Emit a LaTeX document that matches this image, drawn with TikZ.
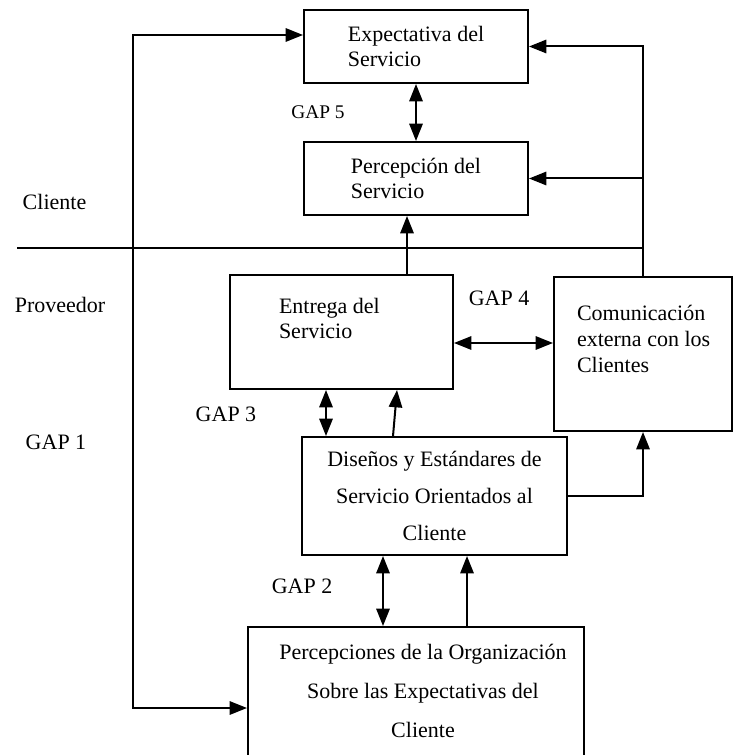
\documentclass[tikz,border=0pt]{standalone}
\usepackage{fontspec}
\setmainfont{Liberation Serif}
\usetikzlibrary{arrows.meta}

\begin{document}
\begin{tikzpicture}[x=0.75pt, y=-0.75pt, line width=1.5pt,
  >={Triangle[length=13pt,width=10pt]},
  caja/.style={draw, inner sep=0pt},
  txt/.style={inner sep=0pt, font=\fontsize{16.5}{18.75}\selectfont},
  gap/.style={inner sep=0pt, font=\fontsize{16.5}{18.75}\selectfont}]
\useasboundingbox (0,0) rectangle (733,755);

% cajas
\node[caja, txt, align=left, minimum width=168pt, minimum height=54.75pt] (exp) at (416,46.5) {Expectativa del\\Servicio};
\node[caja, txt, align=left, minimum width=168pt, minimum height=54.75pt] (per) at (416,178.5) {Percepción del\\Servicio};
\node[caja, minimum width=167.25pt, minimum height=85.5pt] (ent) at (341.5,332) {};
\node[caja, minimum width=133.5pt, minimum height=115.5pt] (com) at (643,354) {};
\node[caja, align=center, font=\fontsize{16.5}{28}\selectfont, minimum width=198.75pt, minimum height=88.5pt] (dis) at (434.5,496) {Diseños y Estándares de\\Servicio Orientados al\\Cliente};
\node[caja, minimum width=252pt, minimum height=103.5pt] (org) at (416,696) {};

\node[txt, align=left, anchor=north west] (entT) at (278,297) {Entrega del\\Servicio};
\node[txt, align=left, anchor=north west, font=\fontsize{16.5}{19.5}\selectfont] (comT) at (576,304) {Comunicación\\externa con los\\Clientes};
\node[txt, align=center, font=\fontsize{16.5}{29.25}\selectfont] (orgT) at (423,691) {Percepciones de la Organización\\Sobre las Expectativas del\\Cliente};

% etiquetas
\node[gap] (cli) at (54.5,201.5) {Cliente};
\node[gap] (prov) at (60,304.5) {Proveedor};
\node[gap, font=\fontsize{14.5}{16}\selectfont] (g5) at (318,112) {GAP 5};
\node[gap] (g4) at (499,298.5) {GAP 4};
\node[gap] (g3) at (226,414) {GAP 3};
\node[gap] (g1) at (56,442) {GAP 1};
\node[gap] (g2) at (302,586) {GAP 2};

\coordinate (l1) at (133,35);
\coordinate (l2) at (133,708);
\coordinate (divL) at (17,248);
\coordinate (xa) at (407,0);
\coordinate (xb) at (393,0);
\coordinate (xc) at (397,0);
\coordinate (xd) at (326,0);
\coordinate (xe) at (383,0);
\coordinate (xf) at (467,0);
\coordinate (ya) at (0,343);

% linea cliente / proveedor
\draw (divL) -- (divL -| com.north);

% flechas
\draw[<->] (exp.west |- l1) -- (l1) -- (l2) -- (org.west |- l2);
\draw[<->] (exp.south) -- (per.north);
\draw[->] (com.north) |- (exp.east);
\draw[->] (com.north) |- (per.east);
\draw[->] (ent.north -| xa) -- (per.south -| xa);
\draw[<->] (ent.east |- ya) -- (com.west |- ya);
\draw[<->] (ent.south -| xd) -- (dis.north -| xd);
\draw[->] (dis.north -| xb) -- (ent.south -| xc);
\draw[->] (dis.east) -| (com.south);
\draw[<->] (dis.south -| xe) -- (org.north -| xe);
\draw[->] (org.north -| xf) -- (dis.south -| xf);

\end{tikzpicture}
\end{document}
